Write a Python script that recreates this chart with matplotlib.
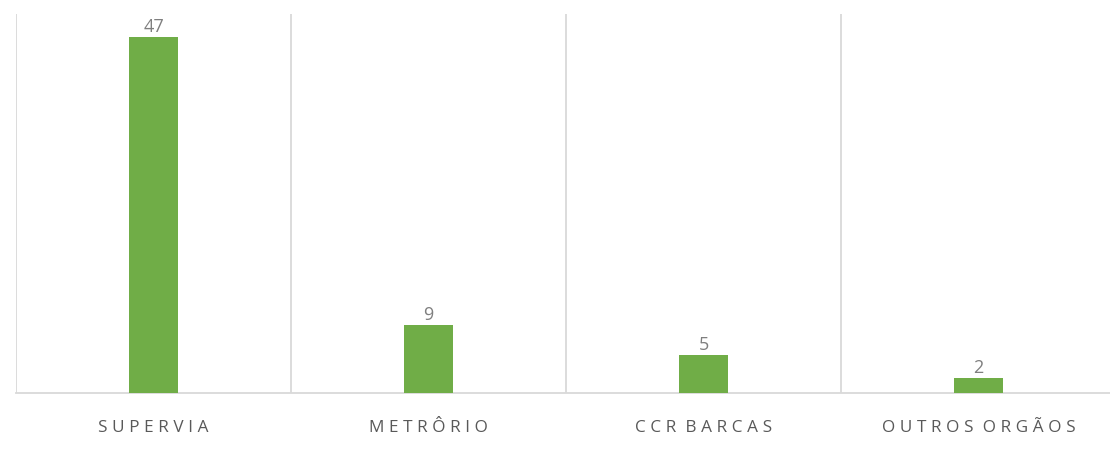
import matplotlib
matplotlib.use("Agg")
import matplotlib.pyplot as plt

categories = ["SUPERVIA", "METRÔRIO", "CCR BARCAS", "OUTROS ORGÃOS"]
values = [47, 9, 5, 2]

plt.rcParams['font.family'] = ['Open Sans', 'DejaVu Sans']

fig = plt.figure(figsize=(11.1, 4.6), dpi=100)
ax = fig.add_axes([16/1110, 66/460, 1100/1110, 379/460])

x = list(range(len(categories)))
bars = ax.bar(x, values, width=0.18, color="#70AD47", zorder=3)
ax.set_xlim(-0.5, len(categories) - 0.5)
ax.set_ylim(0, 50)

for xi, v in zip(x, values):
    ax.text(xi, v + 0.25, str(v), ha="center", va="bottom", fontsize=13, color="#7F7F7F")

# category separators
for b in [i - 0.5 for i in range(len(categories) + 1)]:
    ax.axvline(b, color="#D9D9D9", lw=1.3, zorder=1)

for s in ["top", "right", "left"]:
    ax.spines[s].set_visible(False)
ax.spines["bottom"].set_color("#D9D9D9")
ax.spines["bottom"].set_linewidth(1.3)
ax.set_yticks([])
ax.set_xticks(x)
gap = "\u2009\u200a"
spaced = [gap.join(list(c)).replace(gap + " " + gap, gap * 2) for c in categories]
ax.set_xticklabels(spaced, fontsize=12.3, color="#595959")
ax.tick_params(axis="x", length=0, pad=19)

fig.savefig("out.png", dpi=100)
